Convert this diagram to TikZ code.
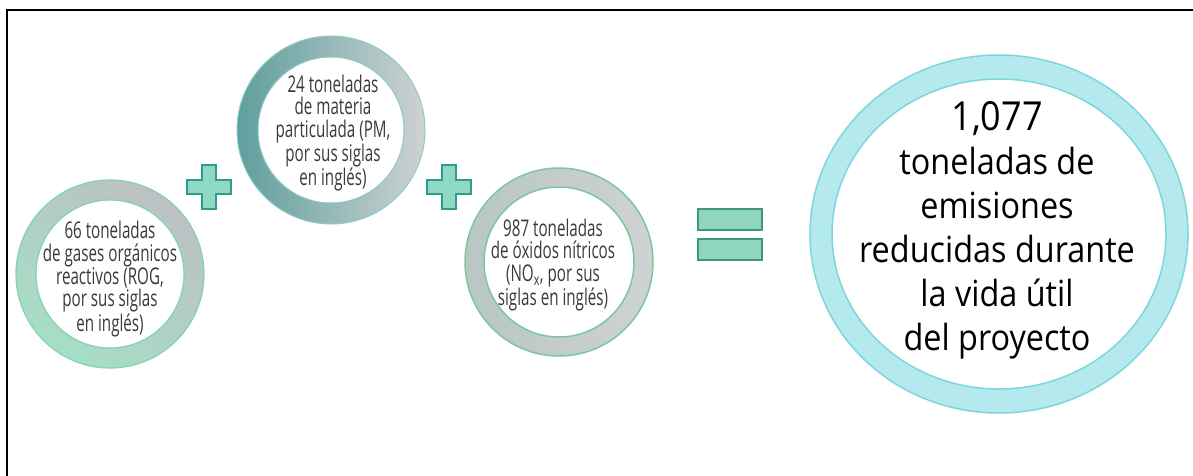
\documentclass[tikz,border=0pt]{standalone}
\usepackage{fontspec}
\setmainfont{Open Sans}
\newfontfamily\condfont[FakeStretch=0.66]{Open Sans}
\newfontfamily\bigfont[FakeStretch=0.9]{Open Sans}
\definecolor{textgray}{HTML}{3A3A3A}
\definecolor{ringgray}{HTML}{BDC0C3}
\definecolor{ringgrayb}{HTML}{CFD2D3}
\definecolor{mintring}{HTML}{A6DEC6}
\definecolor{mintline}{HTML}{7FD4B8}
\definecolor{tealring}{HTML}{5E9F9D}
\definecolor{tealline}{HTML}{8CCBC6}
\definecolor{greenline}{HTML}{7CC898}
\definecolor{cyanring}{HTML}{B4EAEE}
\definecolor{cyanline}{HTML}{7DD6DC}
\definecolor{plusfill}{HTML}{8FD8C2}
\definecolor{plusline}{HTML}{2F9B93}
\definecolor{eqfill}{HTML}{8FD6BC}
\definecolor{eqline}{HTML}{3C9A78}
\tikzset{
  smalltext/.style={align=center, text=textgray, inner sep=0pt,
    font=\condfont\fontsize{23}{22.7}\selectfont},
  bigtext/.style={align=center, text=black, inner sep=0pt,
    font=\bigfont\fontsize{36}{44}\selectfont},
  plusstyle/.style={fill=plusfill, draw=plusline, line width=1.8pt, line join=miter},
  eqstyle/.style={fill=eqfill, draw=eqline, line width=2pt},
  plussign/.pic={\draw[plusstyle] (-7,-22) -- (7,-22) -- (7,-7) -- (22,-7) -- (22,7) -- (7,7) -- (7,22) -- (-7,22) -- (-7,7) -- (-22,7) -- (-22,-7) -- (-7,-7) -- cycle;}
}
\begin{document}
\begin{tikzpicture}[x=1pt,y=-1pt]
\useasboundingbox (0,0) rectangle (1193,476);
\fill[white] (0,0) rectangle (1193,476);
% frame (top and left)
\draw[line width=2pt] (7,476) -- (7,10) -- (1193,10);

% ring 1
\path[even odd rule, top color=ringgray, bottom color=mintring, shading angle=-35]
  (110,274) circle (94) (110,274) circle (74);
\draw[mintline, line width=1.2pt] (110,274) circle (94) (110,274) circle (74);
% ring 2
\path[even odd rule, left color=tealring, right color=ringgrayb]
  (331,130) circle (94) (331,130) circle (73);
\draw[tealline, line width=1pt] (331,130) circle (94) (331,130) circle (73);
% ring 3
\path[even odd rule, left color=ringgray!80!mintring, right color=ringgrayb]
  (559,262) circle (94) (559,262) circle (75);
\draw[greenline, line width=1.5pt] (559,262) circle (94) (559,262) circle (75);
% big ring
\path[even odd rule, fill=cyanring]
  (999,234) ellipse [x radius=189, y radius=179] (999,234) ellipse [x radius=167, y radius=155];
\draw[cyanline, line width=1.5pt] (999,234) ellipse [x radius=189, y radius=179]
  (999,234) ellipse [x radius=167, y radius=155];

% operators
\pic at (209,187) {plussign};
\pic at (449,187) {plussign};
\draw[eqstyle] (698,209) rectangle (762,230);
\draw[eqstyle] (698,239) rectangle (762,260);

% texts
\node[smalltext] (t1) at (110,279) {66 toneladas\\de gases orgánicos\\reactivos (ROG,\\por sus siglas\\en inglés)};
\node[smalltext] (t2) at (333,133) {24 toneladas\\de materia\\particulada (PM,\\por sus siglas\\en inglés)};
\node[smalltext] (t3) at (553,265) {987 toneladas\\de óxidos nítricos\\(NO\textsubscript{x}, por sus\\siglas en inglés)};
\node[bigtext] (t4) at (997,230) {{\fontsize{40}{44}\selectfont 1,077}\\toneladas de\\emisiones\\reducidas durante\\la vida útil\\del proyecto};
\end{tikzpicture}
\end{document}
